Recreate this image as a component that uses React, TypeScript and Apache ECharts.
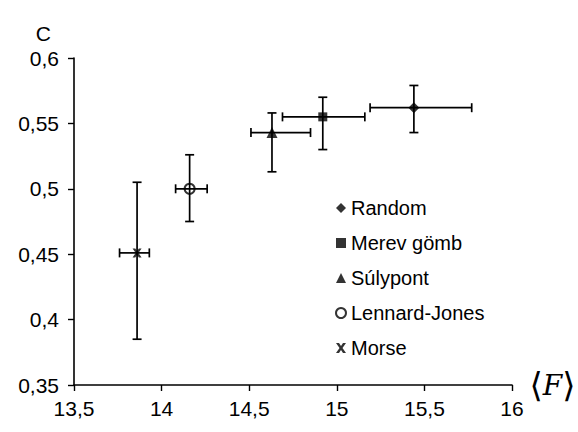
import React, { useEffect, useRef } from "react";
import * as echarts from "echarts";

const seriesNames = ["Random", "Merev gömb", "Súlypont", "Lennard-Jones", "Morse"];
const meanF = [15.44, 14.92, 14.63, 14.16, 13.86];
const cValues = [0.562, 0.555, 0.543, 0.5, 0.451];
const fLow = [15.19, 14.69, 14.51, 14.08, 13.76];
const fHigh = [15.77, 15.16, 14.85, 14.26, 13.93];
const cLow = [0.543, 0.53, 0.513, 0.475, 0.385];
const cHigh = [0.579, 0.57, 0.558, 0.526, 0.505];
const xTicks = { min: 13.5, max: 16, interval: 0.5 };
const yTicks = { min: 0.35, max: 0.6, interval: 0.05 };

const X_PATH = "path://M0,0 L3,0 L5,3 L7,0 L10,0 L6.5,5 L10,10 L7,10 L5,7 L3,10 L0,10 L3.5,5 Z";
const symbols = ["diamond", "rect", "triangle", "circle", X_PATH];
const symbolSizes = [11, 9, 11, 10, 9];

const fmt = (v: number) => String(parseFloat(v.toFixed(2))).replace(".", ",");

export default function App() {
  const ref = useRef<HTMLDivElement>(null);
  useEffect(() => {
    if (!ref.current) return;
    const chart = echarts.init(ref.current, null, { renderer: "svg" });
    const errData = meanF.map((x, i) => [x, cValues[i], fLow[i], fHigh[i], cLow[i], cHigh[i]]);
    const font = "'Liberation Sans', Arial, sans-serif";
    const scatterSeries = seriesNames.map((name, i) => ({
      name,
      type: "scatter",
      data: [[meanF[i], cValues[i]]],
      symbol: symbols[i],
      symbolSize: symbolSizes[i],
      itemStyle: i === 3
        ? { color: "rgba(255,255,255,0)", borderColor: "#000", borderWidth: 2 }
        : { color: "#000" },
      z: 5,
    }));
    chart.setOption({
      animation: false,
      backgroundColor: "#fff",
      grid: { left: 74, right: 66, top: 58, bottom: 47, outerBoundsMode: "none", containLabel: false },
      xAxis: {
        type: "value",
        min: xTicks.min,
        max: xTicks.max,
        interval: xTicks.interval,
        splitLine: { show: false },
        axisLine: { lineStyle: { color: "#000", width: 1.6 } },
        axisTick: { inside: false, length: 6, lineStyle: { color: "#000", width: 1.4 } },
        axisLabel: { formatter: fmt, color: "#000", fontSize: 21, fontFamily: font, margin: 13 },
        name: "{b|⟨}{f|F}{b|⟩}",
        nameLocation: "end",
        nameGap: 10,
        nameTextStyle: {
          rich: {
            b: { fontSize: 34, fontFamily: "'DejaVu Serif', serif", color: "#000" },
            f: { fontSize: 28, fontFamily: "'DejaVu Serif', serif", fontStyle: "italic", color: "#000" },
          },
          verticalAlign: "middle",
        },
      },
      yAxis: {
        type: "value",
        min: yTicks.min,
        max: yTicks.max,
        interval: yTicks.interval,
        splitLine: { show: false },
        axisLine: { lineStyle: { color: "#000", width: 1.6 } },
        axisTick: { inside: false, length: 6, lineStyle: { color: "#000", width: 1.4 } },
        axisLabel: { formatter: fmt, color: "#000", fontSize: 21, fontFamily: font, margin: 15 },
        name: "C",
        nameLocation: "end",
        nameGap: 14,
        nameTextStyle: { color: "#000", fontSize: 21, fontFamily: font, align: "right", padding: [0, 23, 0, 0] },
      },
      legend: {
        data: seriesNames,
        orient: "vertical",
        left: 330,
        top: 193,
        itemWidth: 10,
        itemHeight: 10,
        itemGap: 15,
        textStyle: { color: "#000", fontSize: 20, fontFamily: font, lineHeight: 20 },
      },
      series: [
        {
          type: "custom",
          data: errData,
          encode: { x: [0, 2, 3], y: [1, 4, 5] },
          z: 3,
          renderItem: (params: any, api: any) => {
            const x = api.value(0), y = api.value(1);
            const c = api.coord([x, y]);
            const l = api.coord([api.value(2), y]);
            const r = api.coord([api.value(3), y]);
            const b = api.coord([x, api.value(4)]);
            const t = api.coord([x, api.value(5)]);
            const cap = 4.5;
            const st = { stroke: "#000", lineWidth: 1.7 };
            const ln = (x1: number, y1: number, x2: number, y2: number) => ({
              type: "line",
              shape: { x1, y1, x2, y2 },
              style: st,
            });
            return {
              type: "group",
              children: [
                ln(l[0], c[1], r[0], c[1]),
                ln(l[0], c[1] - cap, l[0], c[1] + cap),
                ln(r[0], c[1] - cap, r[0], c[1] + cap),
                ln(c[0], t[1], c[0], b[1]),
                ln(c[0] - cap, t[1], c[0] + cap, t[1]),
                ln(c[0] - cap, b[1], c[0] + cap, b[1]),
              ],
            };
          },
        },
        ...scatterSeries,
      ],
    });
    return () => chart.dispose();
  }, []);
  return <div ref={ref} style={{ position: "absolute", left: 0, top: 0, width: 578, height: 432 }} />;
}
